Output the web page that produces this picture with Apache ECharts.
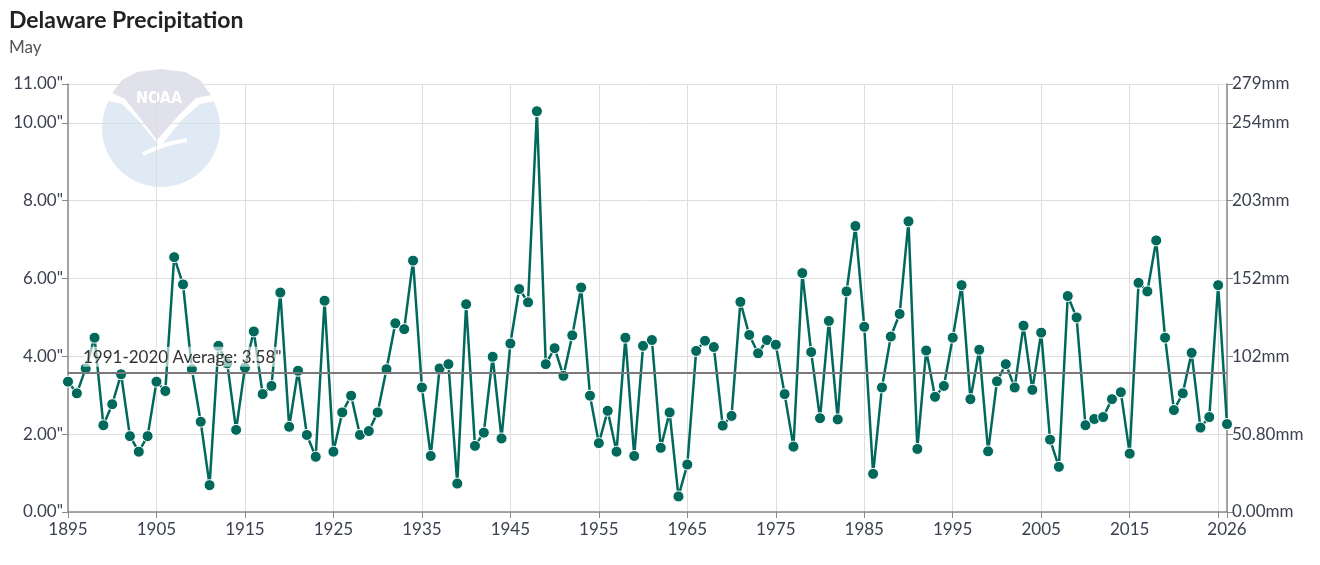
<!DOCTYPE html>
<html>
<head>
<meta charset="utf-8">
<script src="https://cdn.jsdelivr.net/npm/echarts@6/dist/echarts.min.js"></script>
<style>
  html, body { margin: 0; padding: 0; background: #fff; }
  #chart { width: 1320px; height: 565px; }
</style>
</head>
<body>
<div id="chart"></div>
<script>
// ---- Data ----
const startYear = 1895;
const precipInches = [
  3.35, 3.05, 3.69, 4.48, 2.23, 2.77, 3.54, 1.95, 1.55, 1.95,   // 1895-1904
  3.35, 3.11, 6.55, 5.85, 3.67, 2.32, 0.69, 4.27, 3.82, 2.11,   // 1905-1914
  3.71, 4.64, 3.03, 3.24, 5.64, 2.19, 3.63, 1.98, 1.42, 5.43,   // 1915-1924
  1.55, 2.56, 2.99, 1.98, 2.08, 2.56, 3.67, 4.85, 4.70, 6.46,   // 1925-1934
  3.20, 1.44, 3.69, 3.80, 0.73, 5.34, 1.70, 2.04, 3.99, 1.89,   // 1935-1944
  4.33, 5.73, 5.39, 10.30, 3.80, 4.21, 3.50, 4.54, 5.77, 2.99,  // 1945-1954
  1.77, 2.60, 1.55, 4.48, 1.44, 4.27, 4.42, 1.65, 2.56, 0.40,   // 1955-1964
  1.22, 4.14, 4.40, 4.24, 2.22, 2.47, 5.40, 4.55, 4.08, 4.42,   // 1965-1974
  4.30, 3.03, 1.68, 6.14, 4.11, 2.41, 4.91, 2.38, 5.67, 7.35,   // 1975-1984
  4.76, 0.98, 3.20, 4.51, 5.09, 7.47, 1.62, 4.15, 2.96, 3.24,   // 1985-1994
  4.48, 5.83, 2.90, 4.17, 1.56, 3.36, 3.80, 3.20, 4.79, 3.14,   // 1995-2004
  4.61, 1.86, 1.16, 5.55, 5.00, 2.23, 2.39, 2.44, 2.90, 3.08,   // 2005-2014
  1.50, 5.89, 5.67, 6.98, 4.48, 2.62, 3.05, 4.09, 2.17, 2.44,   // 2015-2024
  5.83, 2.26                                                    // 2025-2026
];
const years = precipInches.map((_, i) => startYear + i);
const averageValue = 3.58;
const averageLabel = '1991-2020 Average: 3.58"';
const leftTickValues = [0, 2, 4, 6, 8, 10, 11];
const rightTickLabels = ['0.00mm', '50.80mm', '102mm', '152mm', '203mm', '254mm', '279mm'];
const hiddenXLabels = [2025];

const seriesData = years.map((y, i) => [y, precipInches[i]]);

const FONT = 'Lato, "Noto Sans", sans-serif';
const AXIS_TEXT = '#3c4150';

const chart = echarts.init(document.getElementById('chart'), null, { renderer: 'canvas' });

chart.setOption({
  animation: false,
  backgroundColor: '#ffffff',
  textStyle: { fontFamily: FONT },
  title: {
    text: 'Delaware Precipitation',
    subtext: 'May',
    left: 4,
    top: 4,
    itemGap: 7,
    textStyle: { fontFamily: FONT, fontSize: 23, fontWeight: 'bold', color: '#222222' },
    subtextStyle: { fontFamily: FONT, fontSize: 17, color: '#555555' }
  },
  graphic: [
    { type: 'circle', z: 0, shape: { cx: 161, cy: 128, r: 59 }, style: { fill: '#dfeaf5' }, silent: true },
    { type: 'polygon', z: 0, silent: true,
      shape: { points: [[104,100],[112,88],[126,76],[143,70],[161,68],[179,70],[196,76],[210,88],[218,100],[200,104],[182,120],[160,147],[140,122],[122,104]] },
      style: { fill: '#ffffff' } },
    { type: 'polygon', z: 0, silent: true,
      shape: { points: [[112,93],[122,80],[137,72],[161,69],[185,72],[200,80],[211,95],[196,98],[178,116],[157,140],[140,118],[125,99]] },
      style: { fill: '#e0e1ea' } },
    { type: 'text', z: 0, silent: true, left: 136, top: 91,
      style: { text: 'NOAA', fill: '#ffffff', font: 'bold 16px "DejaVu Sans Condensed", sans-serif' } },
    { type: 'polyline', z: 0, silent: true,
      shape: { points: [[143,154],[165,145],[187,140]], smooth: 0.5 },
      style: { stroke: '#ffffff', lineWidth: 4, fill: null } }
  ],
  grid: { left: 68, right: 93, top: 84, bottom: 53, containLabel: false },
  xAxis: {
    type: 'value',
    min: 1895,
    max: 2026,
    interval: 10,
    axisLine: { show: true, lineStyle: { color: '#8a8a8a', width: 1.5 } },
    axisTick: { show: true, length: 6, lineStyle: { color: '#8a8a8a' } },
    splitLine: { show: true, lineStyle: { color: '#dedede', width: 1 } },
    axisLabel: {
      margin: 9,
      fontSize: 17,
      color: AXIS_TEXT,
      fontFamily: FONT,
      showMinLabel: true,
      showMaxLabel: true,
      hideOverlap: false,
      formatter: v => hiddenXLabels.indexOf(v) >= 0 ? '' : String(v)
    }
  },
  yAxis: [
    {
      type: 'value',
      min: 0,
      max: 11,
      interval: 2,
      position: 'left',
      axisLine: { show: true, lineStyle: { color: '#8a8a8a', width: 1.5 } },
      axisTick: { show: true, length: 6, lineStyle: { color: '#8a8a8a' } },
      splitLine: { show: true, lineStyle: { color: '#dedede', width: 1 } },
      axisLabel: {
        margin: 5,
        fontSize: 17,
        color: AXIS_TEXT,
        fontFamily: FONT,
        showMaxLabel: true,
        formatter: v => v.toFixed(2) + '"'
      }
    },
    {
      type: 'value',
      min: 0,
      max: 11,
      interval: 2,
      position: 'right',
      axisLine: { show: true, lineStyle: { color: '#8a8a8a', width: 1.5 } },
      axisTick: { show: true, length: 6, lineStyle: { color: '#8a8a8a' } },
      splitLine: { show: false },
      axisLabel: {
        margin: 5,
        fontSize: 17,
        color: AXIS_TEXT,
        fontFamily: FONT,
        showMaxLabel: true,
        formatter: v => {
          const idx = leftTickValues.indexOf(v);
          return idx >= 0 ? rightTickLabels[idx] : '';
        }
      }
    }
  ],
  series: [
    {
      type: 'line',
      yAxisIndex: 0,
      data: seriesData,
      symbol: 'circle',
      symbolSize: 11,
      showAllSymbol: true,
      lineStyle: { color: '#00695c', width: 2.5 },
      itemStyle: { color: '#00695c', borderColor: '#ffffff', borderWidth: 1 },
      z: 3,
      markLine: {
        silent: true,
        symbol: ['none', 'none'],
        z: 6,
        lineStyle: { color: '#7a7a7a', width: 2, type: 'solid' },
        label: {
          show: true,
          position: 'insideStartTop',
          formatter: averageLabel,
          fontSize: 17,
          fontFamily: FONT,
          color: '#333333',
          backgroundColor: 'rgba(255,255,255,0.6)',
          padding: [2, 0, 1, 0],
          distance: [15, 6]
        },
        data: [{ yAxis: averageValue }]
      }
    }
  ]
});
</script>
</body>
</html>
